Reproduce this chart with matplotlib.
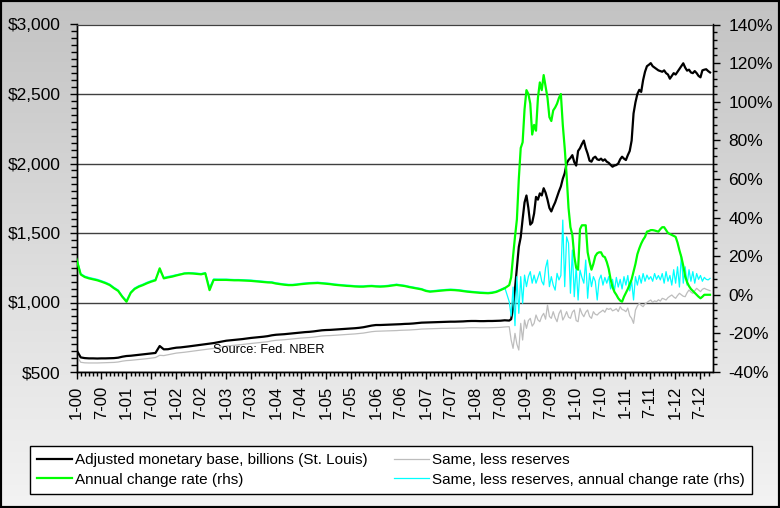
import numpy as np
import pandas as pd
import matplotlib
matplotlib.use("Agg")
import matplotlib.pyplot as plt
import matplotlib.dates as mdates
from matplotlib.ticker import FuncFormatter, MultipleLocator
from matplotlib.colors import LinearSegmentedColormap

plt.rcParams['font.family'] = ['Liberation Sans', 'DejaVu Sans']

# ---------------- data ----------------
# monthly values Jan 2000 .. Aug 2008
black_pre = [658, 605, 600, 598, 598, 597, 598, 598, 599, 600, 603, 610,
             615, 617, 620, 624, 627, 630, 633, 637, 687, 663, 664, 670,
             675, 677, 680, 684, 688, 692, 696, 700, 704, 708, 714, 720,
             725, 728, 731, 734, 737, 741, 745, 748, 751, 754, 758, 764,
             768, 770, 772, 775, 778, 781, 784, 787, 789, 792, 796, 800,
             802, 803, 805, 807, 809, 811, 813, 815, 818, 822, 828, 834,
             838, 838, 839, 840, 841, 842, 844, 846, 847, 849, 852, 855,
             856, 857, 858, 859, 860, 861, 862, 862, 863, 864, 866, 867,
             867, 866, 866, 867, 867, 868, 869, 872]
gray_pre = [618, 570, 566, 565, 565, 565, 566, 567, 568, 569, 572, 578,
            582, 584, 587, 590, 593, 596, 600, 604, 620, 618, 624, 630,
            636, 639, 642, 646, 650, 654, 658, 662, 666, 670, 675, 681,
            686, 689, 692, 695, 698, 702, 705, 708, 711, 714, 718, 724,
            728, 730, 732, 735, 738, 741, 744, 746, 748, 751, 755, 759,
            761, 762, 764, 766, 768, 770, 772, 774, 777, 780, 785, 790,
            793, 794, 795, 796, 797, 798, 800, 801, 802, 804, 806, 809,
            810, 811, 812, 813, 814, 814, 815, 815, 816, 816, 818, 819,
            819, 818, 818, 818, 819, 820, 821, 824]
green_pre = [18.5, 10.5, 9.2, 8.5, 8.0, 7.5, 6.8, 6.0, 5.0, 3.4, 2.0, -1.0,
             -3.6, 1.0, 3.0, 4.2, 5.0, 6.0, 6.8, 7.5, 13.7, 8.5, 9.0, 9.4,
             10.0, 10.5, 11.0, 11.1, 11.0, 10.8, 10.6, 11.1, 2.4, 7.7, 7.7, 7.7,
             7.7, 7.6, 7.5, 7.5, 7.4, 7.3, 7.2, 7.0, 6.8, 6.6, 6.4, 6.3,
             5.8, 5.5, 5.2, 5.0, 5.0, 5.2, 5.5, 5.7, 5.9, 6.0, 6.1, 5.9,
             5.7, 5.5, 5.2, 5.0, 4.8, 4.6, 4.5, 4.3, 4.2, 4.2, 4.4, 4.5,
             4.3, 4.2, 4.3, 4.5, 4.8, 5.1, 4.8, 4.5, 4.0, 3.6, 3.2, 2.8,
             2.0, 1.6, 1.8, 2.0, 2.2, 2.4, 2.5, 2.4, 2.2, 1.9, 1.6, 1.4,
             1.2, 1.0, 0.9, 0.8, 1.0, 1.5, 2.4, 3.4]
cyan_pre = [19.2, 11.0, 9.7, 9.0, 8.5, 8.0, 7.3, 6.5, 5.5, 3.9, 2.5, -0.5,
            -3.0, 1.5, 3.5, 4.7, 5.5, 6.5, 7.3, 8.0, 12.5, 9.0, 9.5, 9.9,
            10.4, 10.8, 11.3, 11.5, 11.4, 11.2, 11.0, 11.5, 4.0, 8.2, 8.1, 8.1,
            8.1, 8.0, 7.9, 7.9, 7.8, 7.7, 7.6, 7.4, 7.2, 7.0, 6.8, 6.7,
            6.2, 5.9, 5.6, 5.4, 5.4, 5.6, 5.9, 6.1, 6.3, 6.4, 6.5, 6.3,
            6.1, 5.9, 5.6, 5.4, 5.2, 5.0, 4.9, 4.7, 4.6, 4.6, 4.8, 4.9,
            4.7, 4.6, 4.7, 4.9, 5.2, 5.5, 5.2, 4.9, 4.4, 4.0, 3.6, 3.2,
            2.4, 2.0, 2.2, 2.4, 2.6, 2.8, 2.9, 2.8, 2.6, 2.3, 2.0, 1.8,
            1.6, 1.4, 1.3, 1.2, 1.4, 1.9, 2.8, 3.8]

# bi-weekly values from 3 Sep 2008
black_post = [870, 880, 960, 1100, 1250, 1400, 1470, 1600, 1720, 1770,
              1680, 1560, 1575, 1640, 1760, 1740, 1785, 1770, 1822, 1790,
              1740, 1680, 1655, 1690, 1720, 1760, 1800, 1835, 1890, 1930,
              2000, 2025, 2040, 2060, 2010, 1985, 2090, 2110, 2140, 2165,
              2110, 2070, 2020, 2013, 2040, 2049, 2030, 2025, 2035, 2020,
              2030, 2013, 2005, 1990, 1977, 1985, 1989, 2000, 2030, 2049,
              2035, 2025, 2060, 2090, 2165, 2360, 2440, 2500, 2530, 2515,
              2600, 2660, 2700, 2710, 2722, 2700, 2690, 2680, 2670, 2665,
              2660, 2670, 2650, 2640, 2610, 2630, 2650, 2640, 2660, 2680,
              2700, 2721, 2690, 2668, 2675, 2655, 2650, 2665, 2650, 2630,
              2620, 2670, 2675, 2678, 2665, 2655]
gray_post = [826, 730, 670, 778, 700, 658, 850, 730, 874, 814,
             870, 886, 830, 850, 910, 875, 862, 900, 922, 880,
             982, 900, 886, 934, 890, 862, 920, 946, 874, 900,
             934, 895, 886, 930, 946, 870, 862, 958, 920, 898,
             930, 946, 900, 886, 934, 915, 910, 925, 934, 945,
             930, 958, 950, 958, 940, 946, 955, 935, 970, 950,
             945, 934, 960, 905, 886, 850, 946, 975, 994, 980,
             970, 990, 1000, 1010, 1018, 1000, 1012, 1006, 1020, 1010,
             1030, 1025, 1018, 1035, 1045, 1054, 1040, 1030, 1050, 1066,
             1055, 1045, 1042, 1070, 1090, 1075, 1066, 1085, 1102, 1090,
             1078, 1095, 1102, 1095, 1090, 1085]
green_post = [5, 9, 20, 30, 39, 60, 76, 79, 96, 106,
              104, 99, 83, 88, 85, 102, 110, 106, 113.8, 108,
              102, 92, 90, 95.5, 97, 99, 102, 104, 88, 76,
              62, 45, 35, 31, 20, 14, 13, 34, 36, 36,
              36, 22, 17, 13, 16, 20, 21.5, 22, 22, 20,
              19.5, 17, 13.5, 8, 4, 1.5, 0, -1.8, -3, -3.6,
              -1, 1, 3, 5.5, 8, 12, 16, 21, 24, 26.5,
              28.5, 30, 32.7, 33, 33.5, 33.5, 33.3, 33, 32.7, 34,
              35, 35, 33.5, 32, 31.5, 31, 30.5, 30, 27, 23,
              19.5, 15, 9.5, 6.5, 4.5, 3, 2, 1, 0, -1,
              -1.8, -1, 0, 0, 0, 0]
cyan_post = [-3.6, -11, 4, -16, 9.4, -9.6, 9.4, -4.4, 10.2, 4.2,
             9.4, 12, 6, 10.2, 6, 9, 12, 7, 5.1, 14,
             18, 4.2, 9.4, 5, 2.4, 11.1, 7.7, 10, 38.7, 4.2,
             30, 26.7, 0.8, 23.2, -1, 14.5, -2.7, 12.8, 9, 6,
             18, -1.8, 11.1, 4.2, 9.4, 7, -2.7, 7.7, 10.2, 5,
             9, 6, 9.4, 3, 8, 2, 9, 4, 8, 3,
             9.4, 5, 10, 2, 7, -2.7, 9.4, 5, 10, 6,
             11, 7, 10.2, 8, 9.4, 7, 11, 8, 10, 7.7,
             11, 6, 12, 7, 10, 5, 13, 6, 14.5, 4,
             20.6, 6, 14.5, 5, 13, 7, 12, 6, 11, 8,
             10, 7, 9, 8, 7.7, 8.5]

labels = ["Adjusted monetary base, billions (St. Louis)",
          "Same, less reserves",
          "Annual change rate (rhs)",
          "Same, less reserves, annual change rate (rhs)"]
source_text = "Source: Fed. NBER"


def dates_for(pre, post):
    d1 = pd.date_range("2000-01-01", periods=len(pre), freq="MS")
    d2 = pd.date_range("2008-09-03", periods=len(post), freq="14D")
    return d1.append(d2)


# ---------------- figure ----------------
W, H = 780, 508
fig = plt.figure(figsize=(W / 100, H / 100), dpi=100)

bg = fig.add_axes([0, 0, 1, 1], zorder=-10)
grad = np.linspace(0, 1, 256).reshape(-1, 1)
cmap = LinearSegmentedColormap.from_list("g", ["#c3c3c3", "#dcdcdc", "#f3f3f3"])
bg.imshow(grad, aspect="auto", cmap=cmap, extent=[0, 1, 0, 1], origin="upper")
bg.set_xticks([])
bg.set_yticks([])
for s in bg.spines.values():
    s.set_color("black")
    s.set_linewidth(3)

L, R, T, B = 76.5, 712.5, 24.5, 372
ax = fig.add_axes([L / W, 1 - B / H, (R - L) / W, (B - T) / H])
ax.set_facecolor("white")
ax2 = ax.twinx()

l_black, = ax.plot(dates_for(black_pre, black_post), black_pre + black_post,
                   color="black", lw=1.6, zorder=4)
l_gray, = ax.plot(dates_for(gray_pre, gray_post), gray_pre + gray_post,
                  color="#bdbdbd", lw=0.9, zorder=3)
l_cyan, = ax2.plot(dates_for(cyan_pre, cyan_post), cyan_pre + cyan_post,
                   color="#00ffff", lw=0.9, zorder=2)
l_green, = ax2.plot(dates_for(green_pre, green_post), green_pre + green_post,
                    color="#00ff00", lw=1.6, zorder=3)

ax.set_xlim(pd.Timestamp("2000-01-01"), pd.Timestamp("2012-09-30"))
ax.set_ylim(500, 3000)
ax2.set_ylim(-40, 140)

ax.xaxis.set_major_locator(mdates.MonthLocator(bymonth=[1, 7]))
ax.xaxis.set_minor_locator(mdates.MonthLocator())
ax.xaxis.set_major_formatter(FuncFormatter(
    lambda x, p: f"{mdates.num2date(x).month}-{mdates.num2date(x).year % 100:02d}"))
ax.yaxis.set_major_locator(MultipleLocator(500))
ax.yaxis.set_minor_locator(MultipleLocator(50))
ax.yaxis.set_major_formatter(FuncFormatter(lambda v, p: f"${v:,.0f}"))
ax2.yaxis.set_major_locator(MultipleLocator(20))
ax2.yaxis.set_minor_locator(MultipleLocator(4))
ax2.yaxis.set_major_formatter(FuncFormatter(lambda v, p: f"{v:.0f}%"))

ax.tick_params(axis="x", which="major", length=5, width=1, direction="out",
               labelsize=12, pad=5, labelrotation=90)
ax.tick_params(axis="x", which="minor", length=3, width=1, direction="out")
ax.tick_params(axis="y", which="major", length=5, width=1, labelsize=12.5, pad=6.5)
ax.tick_params(axis="y", which="minor", length=4, width=1)
ax2.tick_params(axis="y", which="major", length=5, width=1, labelsize=12.5, pad=6.5)
ax2.tick_params(axis="y", which="minor", length=3, width=1)

ax.yaxis.grid(True, which="major", color="#404040", lw=1)
ax.set_axisbelow(True)
for a in (ax, ax2):
    a.spines["top"].set_color("#404040")
    for k in ("left", "right", "bottom"):
        a.spines[k].set_color("black")
        a.spines[k].set_linewidth(1)

fig.text(213 / W, 1 - 350 / H, source_text, fontsize=9.2, va="center", ha="left")

leg = fig.legend([l_black, l_green, l_gray, l_cyan],
                 [labels[0], labels[2], labels[1], labels[3]],
                 ncol=2, mode="expand", loc="center",
                 bbox_to_anchor=(30 / W, 1 - 497 / H, 722 / W, 54 / H),
                 fontsize=11, frameon=True, fancybox=False, framealpha=1,
                 edgecolor="black", facecolor="white", borderaxespad=0,
                 handlelength=2.3, handletextpad=0.2, labelspacing=0.35,
                 borderpad=0.45)
leg.get_frame().set_linewidth(1)

fig.savefig("out.png", dpi=100)
